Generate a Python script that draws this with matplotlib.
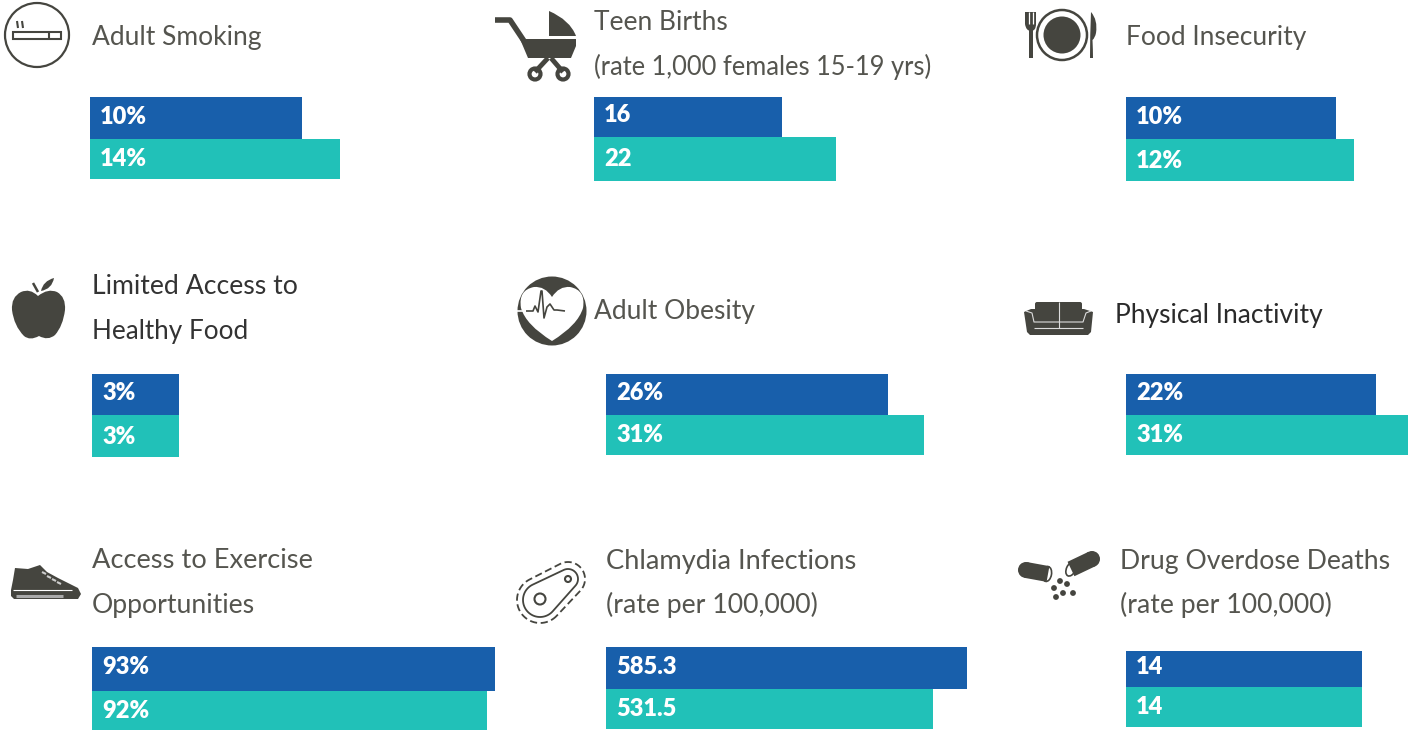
import matplotlib
matplotlib.use('Agg')
import matplotlib.pyplot as plt
import numpy as np
from matplotlib.patches import Circle, Ellipse, Polygon, Rectangle, PathPatch, FancyBboxPatch
from matplotlib.path import Path

titles = [['Adult Smoking'],
          ['Teen Births', '(rate 1,000 females 15-19 yrs)'],
          ['Food Insecurity'],
          ['Limited Access to', 'Healthy Food'],
          ['Adult Obesity'],
          ['Physical Inactivity'],
          ['Access to Exercise', 'Opportunities'],
          ['Chlamydia Infections', '(rate per 100,000)'],
          ['Drug Overdose Deaths', '(rate per 100,000)']]
blue_labels = ['10%', '16', '10%', '3%', '26%', '22%', '93%', '585.3', '14']
teal_labels = ['14%', '22', '12%', '3%', '31%', '31%', '92%', '531.5', '14']
# bar lengths, they do not scale with the labels
blue_lengths = [212, 188, 210, 87, 282, 250, 403, 361, 236]
teal_lengths = [250, 242, 228, 87, 318, 282, 395, 327, 236]

# layout in image pixels
bar_left = [90, 594, 1126, 92, 606, 1126, 92, 606, 1126]
bar_top = [97, 97, 97, 374, 374, 374, 647, 647, 651]
bar_mid = [139, 137, 139, 415, 415, 415, 691, 689, 687]
bar_bot = [179, 181, 181, 457, 455, 455, 731, 729, 727]
title_x = [92, 594, 1126, 92, 594, 1115, 92, 606, 1120]
title_y = [37, 23, 37, 287, 311, 315, 561, 561, 561]
title_col = ['#55554F', '#55554F', '#55554F', '#333333', '#55554F', '#2A2A2A', '#55554F', '#55554F', '#55554F']
title_size = [[19], [19, 18.4], [19], [19.2, 18.8], [19], [19], [19.6, 19.2], [19.6, 19.2], [19.2, 19.2]]
line_gap = 44

BLUE = '#185FAB'
TEAL = '#21C1B8'
DARK = '#45453F'

plt.rcParams['font.family'] = ['Lato', 'DejaVu Sans']

fig = plt.figure(figsize=(14.08, 7.30), dpi=100)
ax = fig.add_axes([0, 0, 1, 1])
ax.set_xlim(0, 1408)
ax.set_ylim(730, 0)
ax.axis('off')

for i in range(len(titles)):
    ax.barh((bar_top[i] + bar_mid[i]) / 2, blue_lengths[i], height=bar_mid[i] - bar_top[i],
            left=bar_left[i], color=BLUE, linewidth=0)
    ax.barh((bar_mid[i] + bar_bot[i]) / 2, teal_lengths[i], height=bar_bot[i] - bar_mid[i],
            left=bar_left[i], color=TEAL, linewidth=0)
    ax.text(bar_left[i] + 10, (bar_top[i] + bar_mid[i]) / 2 - 1.5, blue_labels[i], color='white',
            fontsize=17, fontweight=800, va='center', ha='left')
    ax.text(bar_left[i] + 10, (bar_mid[i] + bar_bot[i]) / 2 + 0.5, teal_labels[i], color='white',
            fontsize=17, fontweight=800, va='center', ha='left')
    for j, line in enumerate(titles[i]):
        ax.text(title_x[i], title_y[i] + j * line_gap, line, color=title_col[i], fontsize=title_size[i][j],
                va='center', ha='left')


def add(p):
    ax.add_patch(p)


def seg(xs, ys, lw=2, col=DARK, cap='butt'):
    ax.plot(xs, ys, color=col, lw=lw, solid_capstyle=cap)


def shape(start, steps, **kw):
    # closed outline from quadratic steps (control, end)
    verts = [start]
    codes = [Path.MOVETO]
    for c, p in steps:
        verts += [c, p]
        codes += [Path.CURVE3, Path.CURVE3]
    add(PathPatch(Path(verts, codes), **kw))


def hull(c1, r1, c2, r2):
    # outline round two circles
    c1 = np.array(c1, float)
    c2 = np.array(c2, float)
    d = c2 - c1
    a = np.arctan2(d[1], d[0])
    off = np.arccos((r1 - r2) / np.hypot(*d))
    t1 = np.linspace(a + off, a + 2 * np.pi - off, 40)
    t2 = np.linspace(a - off, a + off, 30)
    p1 = c1 + r1 * np.c_[np.cos(t1), np.sin(t1)]
    p2 = c2 + r2 * np.c_[np.cos(t2), np.sin(t2)]
    return np.vstack([p1, p2])


# cigarette
add(Circle((37, 35), 32, fc='none', ec=DARK, lw=1.6))
add(Rectangle((13, 32), 48, 7, fc='none', ec=DARK, lw=1.5))
seg([49, 49], [32, 39], 1.5)
seg([17, 18], [21, 28], 1.5)
seg([22, 23], [21, 28], 1.5)

# stroller
seg([495, 510, 526], [20, 20, 44], 4)
add(Polygon([(520, 39), (576, 39), (576, 46), (571, 58), (528, 58)], fc=DARK, ec='none'))
shape((549, 11), [((570, 20), (576, 36)), ((562, 36), (549, 36)), ((549, 24), (549, 11))], fc=DARK, ec='none')
seg([548, 535], [58, 72], 3.5)
seg([551, 563], [58, 72], 3.5)
add(Circle((535, 74), 5.5, fc='white', ec=DARK, lw=3))
add(Circle((563, 74), 5.5, fc='white', ec=DARK, lw=3))

# plate, fork, knife
add(Circle((1062, 35), 25, fc='white', ec=DARK, lw=1.8))
add(Circle((1062, 35), 18.5, fc=DARK, ec='none'))
add(Rectangle((1029, 28), 3.5, 30, fc=DARK, ec='none'))
shape((1025, 12), [((1025, 20), (1025, 24)), ((1026, 31), (1031, 31)), ((1036, 31), (1036, 24)),
                   ((1036, 18), (1036, 12)), ((1030, 12), (1025, 12))], fc=DARK, ec='none')
for x in (1028.5, 1032.5):
    seg([x, x], [12, 24], 0.9, col='white')
shape((1091, 12), [((1098, 20), (1096, 33)), ((1095, 38), (1092.5, 40)), ((1093, 50), (1093, 58)),
                   ((1091, 58), (1090, 58)), ((1090, 35), (1091, 12))], fc=DARK, ec='none')

# apple
shape((38, 296), [((48, 288), (57, 292)), ((66, 297), (65, 310)), ((63, 326), (55, 335)), ((48, 341), (39, 336)),
                  ((30, 341), (24, 336)), ((14, 326), (12, 310)), ((11, 297), (21, 292)), ((30, 288), (38, 296))],
      fc=DARK, ec='none')
shape((41, 291), [((43, 281), (54, 278)), ((52, 289), (41, 291))], fc=DARK, ec='none')
seg([33, 38], [283, 292], 1.8)

# heart in a circle
add(Circle((552, 311), 34.5, fc=DARK, ec='none'))
shape((552, 297), [((559, 286), (570, 287)), ((586, 290), (583, 308)), ((578, 325), (552, 341)),
                   ((526, 325), (521, 308)), ((518, 290), (534, 287)), ((545, 286), (552, 297))],
      fc='white', ec='none')
seg([517, 526], [311, 311], 1.2, col='white')
seg([526, 533, 535, 538, 541, 542, 544, 547, 550, 554, 557, 565], [311, 311, 306, 312, 291, 291, 318, 307, 304, 310, 310, 311], 1.2)

# sofa
add(Polygon([(1024, 312), (1031, 309), (1084, 309), (1093, 312), (1091, 332), (1088, 335), (1030, 335), (1027, 332)],
            fc=DARK, ec='none'))
add(FancyBboxPatch((1035, 302), 47, 20, boxstyle='round,pad=0,rounding_size=2', fc=DARK, ec='none'))
seg([1058.5, 1058.5], [302, 328], 0.8, col='#DDDDDD')
seg([1026, 1032, 1034, 1083, 1086, 1091], [311, 313, 322, 322, 313, 311], 0.8, col='#DDDDDD')
seg([1034, 1083], [328, 328], 0.8, col='#DDDDDD')

# shoe
add(Polygon([(15, 568), (28, 569), (40, 565), (47, 572), (58, 578), (70, 584), (78, 588), (81, 594), (78, 599),
             (14, 599), (11, 596), (11, 590), (13, 580)], fc=DARK, ec='none'))
seg([13, 72], [590, 590], 0.8, col='white')
seg([16, 63], [595.5, 595.5], 2.2, col='#AAAAAA')
for x, y in [(42, 572), (47, 576), (52, 579), (57, 582)]:
    seg([x, x + 4], [y, y + 2], 1.5, col='#CCCCCC')

# meat
add(Polygon(hull((540, 600), 17, (568, 579), 10), fc='none', ec=DARK, lw=1.3))
add(Polygon(hull((540, 600), 23, (568, 579), 17), fc='none', ec=DARK, lw=1.3, ls=(0, (4, 2))))
add(Circle((540, 599), 5.5, fc='none', ec=DARK, lw=1.5))
add(Circle((568, 579), 3, fc='none', ec=DARK, lw=1.5))

# capsules
seg([1026, 1048], [570, 574], 11.5)
add(Circle((1026, 570), 8, fc=DARK, ec='none'))
add(Ellipse((1047, 574), 9, 15, angle=10, fc='white', ec=DARK, lw=1.2))
seg([1092, 1071], [559, 569], 11.5)
add(Circle((1092, 559), 8, fc=DARK, ec='none'))
add(Ellipse((1071, 569), 9, 15, angle=25, fc='white', ec=DARK, lw=1.2))
for x, y in [(1060, 581), (1067, 584), (1054, 588), (1063, 593), (1073, 593), (1056, 597)]:
    add(Circle((x, y), 2.9, fc=DARK, ec='none'))

fig.savefig('out.png', dpi=100, facecolor='white')
